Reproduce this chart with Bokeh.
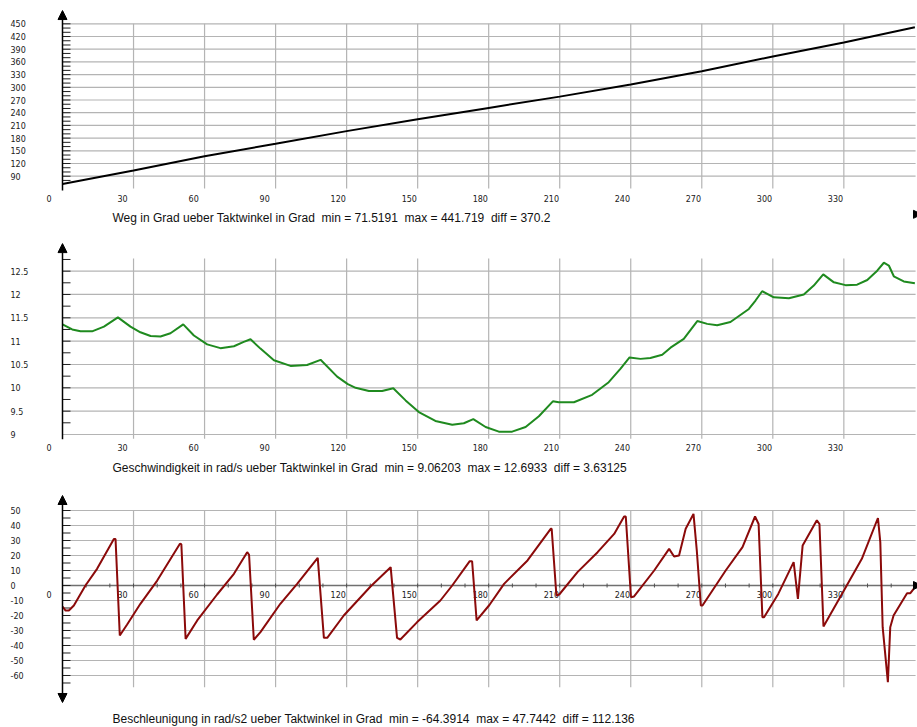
from bokeh.plotting import figure
from bokeh.layouts import column
from bokeh.models import Range1d, Arrow, NormalHead
from bokeh.embed import file_html
from bokeh.resources import INLINE
from bokeh.core.properties import value

# ---------------- data ----------------
x_ticks = [0, 30, 60, 90, 120, 150, 180, 210, 240, 270, 300, 330]
x_tick_labels = [str(t) for t in x_ticks]
acc_axis_ticks = list(range(10, 360, 10))

# Weg (position) in Grad
weg_deg = [0, 30, 60, 90, 120, 150, 180, 210, 240, 270, 300, 330, 360]
weg_val = [71.5, 103.5, 137.2, 166.5, 196.5, 224.7, 251.3, 278.0, 306.6, 338.0, 372.8, 405.9, 441.7]
weg_y_ticks = [90, 120, 150, 180, 210, 240, 270, 300, 330, 360, 390, 420, 450]
weg_y_labels = [str(t) for t in weg_y_ticks]
weg_minor = list(range(80, 451, 10))

# Geschwindigkeit in rad/s
vel_deg = [0, 4.1, 7.6, 12.5, 17.5, 23.4, 28.7, 32.9, 37.2, 41.4,
           45.6, 51.0, 55.5, 61.1, 66.7, 72.4, 76.3, 79.4, 83.6, 89.3,
           96.3, 103.3, 109.0, 116.0, 120.5, 123.8, 129.4, 135.0, 139.7, 144.9,
           150.5, 157.5, 164.6, 169.5, 173.5, 178.7, 184.3, 189.9, 195.6, 201.2,
           207.1, 209.6, 216.0, 223.7, 230.7, 235.7, 239.5, 244.1, 248.3, 253.3,
           256.8, 262.4, 268.1, 272.3, 276.5, 282.1, 289.9, 292.7, 295.5, 300.4,
           306.8, 313.1, 317.3, 321.3, 325.8, 330.7, 335.6, 339.9, 344.1, 346.9,
           349.0, 351.1, 355.3, 360.0]
vel_val = [11.36, 11.25, 11.21, 11.21, 11.31, 11.51, 11.31, 11.19, 11.11, 11.10,
           11.17, 11.36, 11.12, 10.93, 10.85, 10.89, 10.98, 11.04, 10.84, 10.59,
           10.47, 10.49, 10.60, 10.24, 10.08, 10.00, 9.93, 9.93, 9.99, 9.73,
           9.48, 9.29, 9.21, 9.24, 9.33, 9.16, 9.06, 9.06, 9.16, 9.39,
           9.71, 9.69, 9.69, 9.85, 10.12, 10.41, 10.65, 10.62, 10.64, 10.71,
           10.86, 11.05, 11.43, 11.37, 11.34, 11.41, 11.69, 11.87, 12.07, 11.94,
           11.92, 12.00, 12.19, 12.43, 12.26, 12.20, 12.21, 12.31, 12.51, 12.68,
           12.62, 12.39, 12.28, 12.24]
vel_y_ticks = [9.0, 9.5, 10.0, 10.5, 11.0, 11.5, 12.0, 12.5]
vel_y_labels = ["9", "9.5", "10", "10.5", "11", "11.5", "12", "12.5"]
vel_minor = [9.25, 9.5, 9.75, 10.0, 10.25, 10.5, 10.75, 11.0, 11.25, 11.5,
             11.75, 12.0, 12.25, 12.5, 12.75]

# Beschleunigung in rad/s2
acc_deg = [0, 1.3, 2.7, 4.8, 9.7, 14.6, 21.7, 22.4, 24.2, 27.3,
           32.9, 40.0, 49.6, 50.2, 52.0, 56.9, 65.3, 72.4, 78.0, 78.8,
           80.8, 83.6, 92.0, 99.1, 107.8, 110.4, 111.8, 118.8, 130.1, 138.6,
           141.3, 142.7, 149.8, 159.6, 164.6, 172.0, 173.0, 174.9, 180.3, 186.5,
           196.4, 206.2, 206.6, 208.6, 209.8, 217.5, 226.0, 233.0, 237.2, 237.9,
           240.1, 241.4, 249.9, 256.2, 258.3, 260.4, 263.2, 266.5, 267.9, 269.6,
           270.3, 280.1, 287.2, 292.5, 294.0, 295.6, 296.3, 302.3, 308.8, 310.6,
           312.6, 318.6, 319.7, 321.4, 329.2, 337.6, 344.4, 345.4, 346.4, 348.6,
           349.6, 351.0, 356.7, 358.1, 359.5]
acc_val = [-14.0, -16.7, -16.7, -13.3, 0.0, 11.1, 31.0, 31.0, -33.3, -26.0,
           -12.2, 3.3, 27.8, 27.5, -35.6, -23.3, -6.0, 7.8, 22.2, 20.5,
           -36.2, -31.1, -12.2, 1.1, 18.4, -34.9, -34.9, -20.0, -0.7, 12.2,
           -34.9, -36.0, -24.4, -10.0, 0.0, 16.2, 16.2, -23.3, -13.0, 1.1,
           16.7, 37.8, 37.8, -6.7, -6.0, 8.9, 22.2, 34.4, 46.0, 46.0,
           -7.8, -7.3, 10.0, 24.4, 19.3, 20.0, 37.8, 47.7, 23.3, -13.3,
           -13.3, 10.0, 25.6, 46.0, 41.0, -21.1, -21.1, -5.6, 15.6, -8.9,
           26.7, 43.5, 41.0, -27.3, -5.6, 17.8, 45.0, 28.9, -27.8, -64.4,
           -27.8, -20.0, -5.1, -5.1, -2.2]
acc_y_ticks = [-60, -50, -40, -30, -20, -10, 0, 10, 20, 30, 40, 50]
acc_y_labels = [str(t) for t in acc_y_ticks]
acc_grid = [-60, -50, -40, -30, -20, -10, 10, 20, 30, 40, 50]
acc_minor = list(range(-65, 51, 5))

captions = [
    "Weg in Grad ueber Taktwinkel in Grad \u00a0min = 71.5191 \u00a0max = 441.719 \u00a0diff = 370.2",
    "Geschwindigkeit in rad/s ueber Taktwinkel in Grad \u00a0min = 9.06203 \u00a0max = 12.6933 \u00a0diff = 3.63125",
    "Beschleunigung in rad/s2 ueber Taktwinkel in Grad \u00a0min = -64.3914 \u00a0max = 47.7442 \u00a0diff = 112.136",
]

# ---------------- layout constants ----------------
W = 917
PX_PER_DEG = 2.3677
X0 = -62 / PX_PER_DEG
X1 = X0 + W / PX_PER_DEG
X_RIGHT = 360.3
TICK_LEN = 8 / PX_PER_DEG

GRID_COLOR = "#b4b4b4"
TICK_FONT = value("DejaVu Sans")
CAP_FONT = value("Liberation Sans")


def panel(height, yr, grid_vals, vgrid_lo, vgrid_hi, y_ticks, y_labels, minor,
          axis_lo, axis_hi, xlabel_y, cap_y, cap_text, xs, ys, color,
          two_heads=False, xaxis=False, right_arrow=False):
    p = figure(width=W, height=height, x_range=Range1d(X0, X1), y_range=Range1d(*yr),
               x_axis_type=None, y_axis_type=None, toolbar_location=None,
               output_backend="svg", min_border=0, outline_line_color=None,
               background_fill_color="white", border_fill_color="white")
    # horizontal grid
    p.segment(x0=[0] * len(grid_vals), x1=[X_RIGHT] * len(grid_vals), y0=grid_vals, y1=grid_vals,
              line_color=GRID_COLOR, line_width=1.2)
    # vertical grid
    vg = x_ticks[1:]
    p.segment(x0=vg, x1=vg, y0=[vgrid_lo] * len(vg), y1=[vgrid_hi] * len(vg),
              line_color=GRID_COLOR, line_width=1.2)
    if xaxis:
        p.segment(x0=[0], x1=[X_RIGHT], y0=[0], y1=[0], line_color="#707070", line_width=1.5)
        h = 2.0 * (yr[1] - yr[0]) / height
        p.segment(x0=acc_axis_ticks, x1=acc_axis_ticks, y0=[-h] * len(acc_axis_ticks),
                  y1=[h] * len(acc_axis_ticks), line_color="#505050", line_width=1)
    # y axis minor ticks
    p.segment(x0=[0] * len(minor), x1=[TICK_LEN] * len(minor), y0=minor, y1=minor,
              line_color="#202020", line_width=1)
    # y axis with arrow
    arr = Arrow(x_start=0, y_start=axis_lo, x_end=0, y_end=axis_hi,
                line_color="black", line_width=1.5,
                end=NormalHead(size=9, fill_color="black", line_color="black", line_width=1))
    if two_heads:
        arr.start = NormalHead(size=9, fill_color="black", line_color="black", line_width=1)
    p.add_layout(arr)
    if right_arrow:
        p.add_layout(Arrow(x_start=355.0, y_start=0, x_end=362.8, y_end=0, line_alpha=0,
                           end=NormalHead(size=8, fill_color="black", line_color="black",
                                          line_width=1)))
    # tick labels
    p.text(x=[0] * len(y_ticks), y=y_ticks, text=y_labels, x_offset=-52,
           text_font=TICK_FONT, text_font_size="8px", text_align="left",
           text_baseline="middle", text_color="#202020")
    p.text(x=x_ticks, y=[xlabel_y] * len(x_ticks), text=x_tick_labels, x_offset=-16,
           text_font=TICK_FONT, text_font_size="8px", text_align="left",
           text_baseline="middle", text_color="#202020")
    # data line
    p.line(xs, ys, line_color=color, line_width=2)
    # caption
    p.text(x=[0], y=[cap_y], text=[cap_text], x_offset=50, text_font=CAP_FONT,
           text_font_size="12px", text_align="left", text_baseline="middle",
           text_color="#111111")
    return p


p1 = panel(232, (-43.0, 505.1), weg_y_ticks, 60.9, 450, weg_y_ticks, weg_y_labels, weg_minor,
           56.2, 481.4, 37.3, -7.6, captions[0], weg_deg, weg_val, "#000000",
           right_arrow=True)
p2 = panel(250, (7.971, 13.328), vel_y_ticks, 8.91, 12.77, vel_y_ticks, vel_y_labels, vel_minor,
           8.9, 13.09, 8.728, 8.271, captions[1], vel_deg, vel_val, "#1f8a1f")
p3 = panel(245, (-94.67, 68.67), acc_grid, -67.8, 50, acc_y_ticks, acc_y_labels, acc_minor,
           -78.0, 60.0, -6.0, -89.33, captions[2], acc_deg, acc_val, "#8b0a0a",
           two_heads=True, xaxis=True, right_arrow=True)

layout = column(p1, p2, p3, spacing=0)
open("out.html", "w").write(file_html(layout, INLINE))
